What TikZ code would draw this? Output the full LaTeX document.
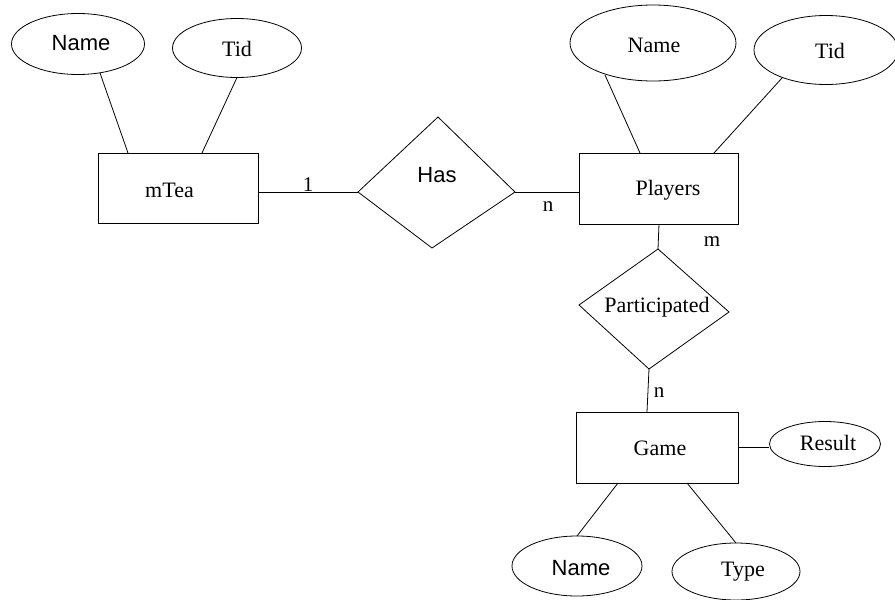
\documentclass[tikz,border=0pt]{standalone}
\usepackage{fontspec}
\setmainfont{Liberation Serif}
\newfontfamily\arialf{Liberation Sans}
\usetikzlibrary{shapes.geometric,calc}
\begin{document}
\begin{tikzpicture}[x=1pt,y=-1pt,
  every node/.style={inner sep=0pt, outer sep=0pt},
  ent/.style={draw, rectangle, line width=0.8pt},
  attr/.style={draw, ellipse, line width=0.8pt},
  lbl/.style={font=\fontsize{22}{26}\selectfont},
  slbl/.style={font=\arialf\fontsize{22}{26}\selectfont},
  card/.style={font=\fontsize{21}{24}\selectfont},
  conn/.style={line width=0.8pt}]
\useasboundingbox (0,0) rectangle (895,600);

% entities
\node[ent, minimum width=160pt, minimum height=70pt] (mtea) at (178,188) {};
\node[ent, minimum width=159pt, minimum height=71pt] (players) at (658.5,188.5) {};
\node[ent, minimum width=162pt, minimum height=71pt] (game) at (657,447.5) {};
\node[lbl] (mteaT) at (169.5,190) {mTea};
\node[lbl] (playersT) at (668,190) {Players};
\node[lbl] (gameT) at (660,448) {Game};

% attributes
\node[attr, minimum width=133pt, minimum height=61pt] (nameA) at (78,44) {};
\node[attr, minimum width=129pt, minimum height=59pt] (tidA) at (237,48) {};
\node[attr, minimum width=166pt, minimum height=76pt] (nameP) at (653,43) {};
\node[attr, minimum width=144pt, minimum height=69pt] (tidP) at (826,50) {};
\node[attr, minimum width=111pt, minimum height=45pt] (result) at (825,444) {};
\node[attr, minimum width=130pt, minimum height=60pt] (nameG) at (577,566) {};
\node[attr, minimum width=128pt, minimum height=57pt] (typeG) at (736,571.5) {};
\node[slbl] (nameAT) at (81,43) {Name};
\node[lbl] (tidAT) at (237,49) {Tid};
\node[lbl] (namePT) at (654,45) {Name};
\node[lbl] (tidPT) at (830,51) {Tid};
\node[lbl] (resultT) at (828,443) {Result};
\node[slbl] (nameGT) at (581,568) {Name};
\node[lbl] (typeGT) at (743,572) {Type};

% relationships
\coordinate (hasL) at (358,192);
\coordinate (hasT) at (438,117);
\coordinate (hasR) at (515,192);
\coordinate (hasB) at (432,248);
\draw[conn] (hasL) -- (hasT) -- (hasR) -- (hasB) -- cycle;
\node[slbl] (hasT2) at (437,175) {Has};

\coordinate (parT) at (658,249);
\coordinate (parL) at (579,305);
\coordinate (parR) at (729,312);
\coordinate (parB) at (649,369);
\draw[conn] (parT) -- (parR) -- (parB) -- (parL) -- cycle;
\node[lbl] (parTT) at (657,307) {Participated};

% connectors
\draw[conn] ($(nameA.center)+(22,29)$) -- ($(mtea.north west)+(30,0)$);
\draw[conn] (tidA.south) -- ($(mtea.north west)+(104,0)$);
\draw[conn] ($(mtea.north east)+(0,39)$) -- (hasL);
\draw[conn] (hasR) -- (hasR -| players.west);
\draw[conn] ($(nameP.center)+(-48,32)$) -- ($(players.north west)+(61,0)$);
\draw[conn] ($(tidP.center)+(-44,28)$) -- ($(players.north west)+(135,0)$);
\draw[conn] ($(players.south west)+(80,0)$) -- (parT);
\draw[conn] (parB) -- ($(game.north west)+(71,0)$);
\draw[conn] ($(game.north east)+(0,35)$) -- ($(game.north east)+(31,35)$) coordinate (resW);
\draw[conn] ($(game.south west)+(42,0)$) -- (nameG.north);
\draw[conn] ($(game.south west)+(111,0)$) -- (typeG.north);

% cardinalities
\node[card] (c1) at (308,184.5) {1};
\node[card] (c2) at (548,206.5) {n};
\node[card] (c3) at (712,242) {m};
\node[card] (c4) at (659,393) {n};
\end{tikzpicture}
\end{document}
